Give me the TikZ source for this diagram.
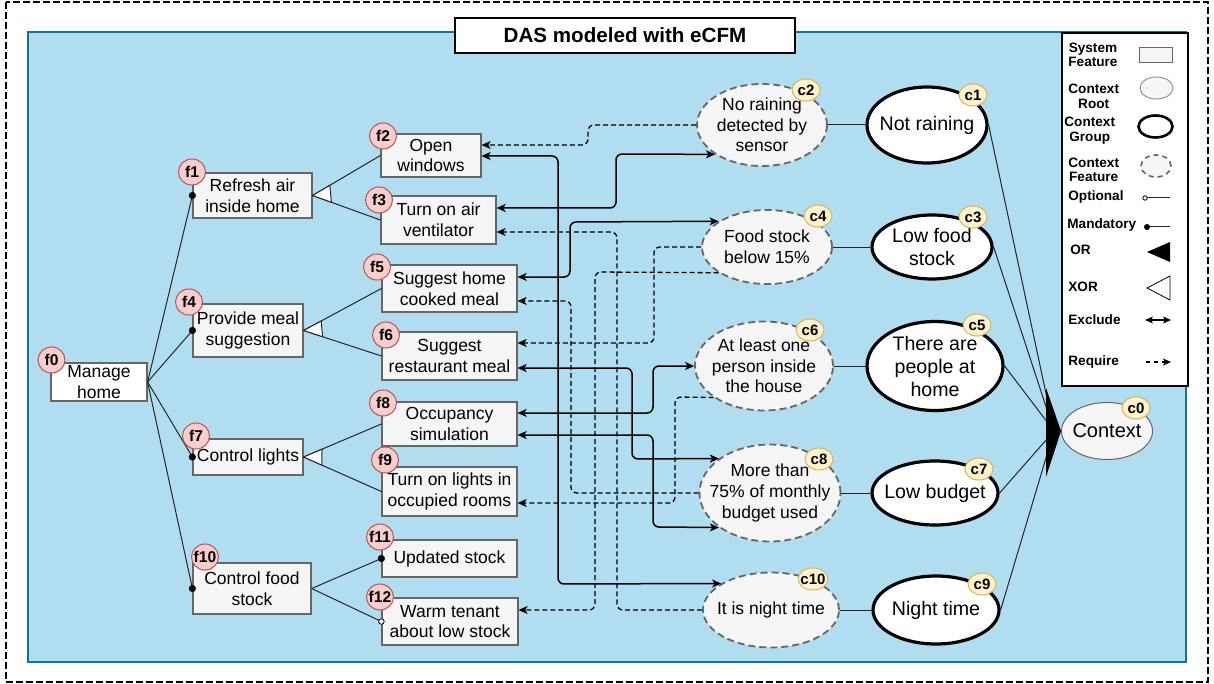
\documentclass[tikz,border=0pt]{standalone}
\usepackage{fontspec}
\setmainfont{Liberation Sans}
\usetikzlibrary{shapes.geometric, arrows.meta, calc}
\definecolor{panelfill}{HTML}{B1DDF0}
\definecolor{panelline}{HTML}{10739E}
\definecolor{featfill}{HTML}{F5F5F5}
\definecolor{featline}{HTML}{666666}
\definecolor{pinkfill}{HTML}{F8CECC}
\definecolor{pinkline}{HTML}{B85450}
\definecolor{yelfill}{HTML}{FFF2CC}
\definecolor{yelline}{HTML}{D6B656}
\begin{document}
\begin{tikzpicture}[x=0.5pt, y=-0.5pt,
  feat/.style={draw=featline, fill=featfill, line width=0.6pt, inner sep=0pt,
    align=center, font=\fontsize{8.75}{10.35}\selectfont},
  cgroup/.style={ellipse, draw=black, fill=white, line width=1.6pt, inner sep=-6pt,
    align=center, font=\fontsize{9.8}{11.5}\selectfont},
  cfeat/.style={ellipse, draw=featline, fill=featfill, line width=0.9pt,
    dash pattern=on 3.5pt off 2pt, inner sep=-6pt, align=center,
    font=\fontsize{8.75}{10.35}\selectfont},
  croot/.style={ellipse, draw=featline, fill=featfill, line width=0.5pt, inner sep=-6pt,
    font=\fontsize{10}{12}\selectfont},
  fbadge/.style={ellipse, draw=pinkline, fill=pinkfill, line width=0.5pt, inner sep=-1pt,
    minimum width=13.5pt, minimum height=13pt, font=\bfseries\fontsize{7.8}{8}\selectfont},
  cbadge/.style={ellipse, draw=yelline, fill=yelfill, line width=0.5pt, inner sep=-1pt,
    minimum width=14pt, minimum height=11pt, font=\bfseries\fontsize{7.5}{8}\selectfont},
  tree/.style={draw=black!85, line width=0.5pt},
  excl/.style={line width=0.75pt, rounded corners=3pt,
    {Stealth[length=4.5pt,width=4pt,inset=1.2pt]}-{Stealth[length=4.5pt,width=4pt,inset=1.2pt]}},
  req/.style={line width=0.65pt, dash pattern=on 2.5pt off 1.5pt, rounded corners=3pt,
    -{Stealth[length=4.5pt,width=4pt,inset=1.2pt]}},
  legtext/.style={anchor=west, inner sep=0pt, align=center,
    font=\bfseries\fontsize{6.8}{7.2}\selectfont},
]
\useasboundingbox (0,0) rectangle (1214,684);

% frame and panel
\draw[line width=1.4pt, dash pattern=on 3.5pt off 1.5pt] (6,2) rectangle (1208,682);
\draw[draw=panelline, fill=panelfill, line width=1pt] (28,32) rectangle (1186,662);
\node[draw=black, line width=0.9pt, fill=white, minimum width=170pt, minimum height=17.5pt,
  inner sep=0pt, font=\bfseries\fontsize{10.3}{12}\selectfont] (title) at (625,35.5)
  {DAS modeled with eCFM};

% system features
\node[feat, fill=white, minimum width=48pt, minimum height=19pt] (f0) at (99,382) {Manage\\home};
\node[feat, minimum width=59.5pt, minimum height=22.5pt] (f1) at (252.5,195.5) {Refresh air\\inside home};
\node[feat, minimum width=55pt, minimum height=26.5pt] (f4) at (248,330.5) {Provide meal\\suggestion};
\node[feat, minimum width=55pt, minimum height=18pt] (f7) at (248,457) {Control lights};
\node[feat, minimum width=59pt, minimum height=25.5pt] (f10) at (252,588.5) {Control food\\stock};
\node[feat, minimum width=50pt, minimum height=21.5pt] (f2) at (431,155.5) {Open\\windows};
\node[feat, minimum width=57.5pt, minimum height=24pt] (f3) at (438.5,220) {Turn on air\\ventilator};
\node[feat, minimum width=67.5pt, minimum height=23.5pt] (f5) at (449.5,288.5) {Suggest home\\cooked meal};
\node[feat, minimum width=67.5pt, minimum height=24pt] (f6) at (449.5,356) {Suggest\\restaurant meal};
\node[feat, minimum width=67.5pt, minimum height=22pt] (f8) at (449.5,424) {Occupancy\\simulation};
\node[feat, minimum width=67.5pt, minimum height=24.5pt] (f9) at (449.5,491.5) {Turn on lights in\\occupied rooms};
\node[feat, minimum width=67.5pt, minimum height=18.5pt] (f11) at (449.5,558.5) {Updated stock};
\node[feat, minimum width=68pt, minimum height=23.5pt] (f12) at (450,621.5) {Warm tenant\\about low stock};

% context
\node[croot, minimum width=45.5pt, minimum height=28.5pt] (c0) at (1107,431) {Context};
\node[cgroup, minimum width=60pt, minimum height=38pt] (c1) at (927,125) {Not raining};
\node[cgroup, minimum width=60pt, minimum height=32pt] (c3) at (932,247) {Low food\\stock};
\node[cgroup, minimum width=68pt, minimum height=44.5pt] (c5) at (935,366) {There are\\people at\\home};
\node[cgroup, minimum width=63pt, minimum height=32pt] (c7) at (935,493) {Low budget};
\node[cgroup, minimum width=63pt, minimum height=34pt] (c9) at (936,610) {Night time};
\node[cfeat, minimum width=65pt, minimum height=41pt] (c2) at (762,125) {No raining\\detected by\\sensor};
\node[cfeat, minimum width=65pt, minimum height=37pt] (c4) at (767,247) {Food stock\\below 15\%};
\node[cfeat, minimum width=69pt, minimum height=44.5pt] (c6) at (764,366) {At least one\\person inside\\the house};
\node[cfeat, minimum width=70.5pt, minimum height=48.5pt] (c8) at (770,493) {More than\\75\% of monthly\\budget used};
\node[cfeat, minimum width=68pt, minimum height=37.5pt] (c10) at (771,610) {It is night time};

% feature tree
\foreach \ch in {f1,f4,f7,f10} {
  \draw[tree] (f0.east) -- (\ch.west);
  \fill (\ch.west) circle (1.8pt);
}
\foreach \pa/\ca/\cb in {f1/f2/f3, f4/f5/f6, f7/f8/f9} {
  \draw[tree] (\pa.east) -- (\ca.west);
  \draw[tree] (\pa.east) -- (\cb.west);
  \draw[tree, fill=white] (\pa.east) -- ($(\pa.east)!10pt!(\ca.west)$)
    -- ($(\pa.east)!10pt!(\cb.west)$) -- cycle;
}
\draw[tree] (f10.east) -- (f11.west);
\draw[tree] (f10.east) -- (f12.west);
\fill (f11.west) circle (1.8pt);
\draw[line width=0.4pt, fill=white] (f12.west) circle (1.4pt);

% context tree
\foreach \cf/\cg in {c2/c1, c4/c3, c6/c5, c8/c7, c10/c9}
  \draw[tree] (\cf.east) -- (\cg.west);
\coordinate (orhub) at (1054,431);
\foreach \cg in {c1,c3,c5,c7,c9}
  \draw[tree] (\cg.east) -- (orhub);
\fill (1046,388) -- (c0.west) -- (1046,477) -- cycle;

% exclude constraints
\draw[excl] (f2.east |- 0,156) -- (558,156) -- (558,584) -- (c10.152);
\draw[excl] (f3.east |- 0,208) -- (616,208) -- (616,154) -- (c2.212);
\draw[excl] (f5.east |- 0,277) -- (570,277) -- (570,222) -- (c4.152);
\draw[excl] (f6.east |- 0,368) -- (632,368) -- (632,459) -- (c8.146);
\draw[excl] (f8.east |- 0,413) -- (653,413) -- (653,366) -- (c6.west);
\draw[excl] (f8.east |- 0,435) -- (653,435) -- (653,527) -- (c8.214);

% require constraints
\draw[req] (c2.west) -- (588,125) -- (588,145) -- (f2.east |- 0,145);
\draw[req] (c10.west) -- (617,610) -- (617,232) -- (f3.east |- 0,232);
\draw[req] (c4.208) -- (595,272) -- (595,610) -- (f12.east |- 0,610);
\draw[req] (c4.west) -- (654,247) -- (654,343) -- (f6.east |- 0,343);
\draw[req] (c8.west) -- (571,493) -- (571,301) -- (f5.east |- 0,301);
\draw[req] (c6.212) -- (675,397) -- (675,503) -- (f9.east |- 0,503);

% badges
\foreach \n/\x/\y in {f0/51.5/360, f1/192/172, f2/383/136, f3/379/200, f4/189/302,
  f5/377/267, f6/386/335, f7/196/436, f8/383/403, f9/385/460, f10/205/557,
  f11/380/537, f12/380/597}
  \node[fbadge] (\n b) at (\x,\y) {\n};
\foreach \n/\x/\y in {c0/1136/408, c1/973/95, c2/806/90, c3/973/217, c4/818/216,
  c5/977/325, c6/810/330, c7/979/469, c8/819/459, c9/982/584, c10/813/579}
  \node[cbadge] (\n b) at (\x,\y) {\n};

% legend
\node[draw=black, line width=1pt, fill=white, minimum width=63pt, minimum height=176.5pt,
  inner sep=0pt] (legend) at (1125,209.5) {};
\node[legtext] (lg1) at (1068,55) {System\\Feature};
\node[legtext] (lg2) at (1068,96.5) {Context\\Root};
\node[legtext] (lg3) at (1064,130.5) {Context\\Group};
\node[legtext] (lg4) at (1068,170) {Context\\Feature};
\node[legtext] (lg5) at (1068,197) {Optional};
\node[legtext] (lg6) at (1067,225) {Mandatory};
\node[legtext] (lg7) at (1070,250) {OR};
\node[legtext] (lg8) at (1068,287) {XOR};
\node[legtext] (lg9) at (1068,320) {Exclude};
\node[legtext] (lg10) at (1068,362) {Require};
\node[draw=featline, fill=featfill, line width=0.5pt, minimum width=16.5pt, minimum height=7.3pt,
  inner sep=0pt] (ls1) at (1155.5,55) {};
\node[ellipse, draw=featline!70, fill=featfill, line width=0.5pt, minimum width=16.5pt,
  minimum height=11pt, inner sep=0pt] (ls2) at (1156.5,88) {};
\node[ellipse, draw=black, fill=white, line width=1.3pt, minimum width=17pt,
  minimum height=11pt, inner sep=0pt] (ls3) at (1155.5,126.5) {};
\node[ellipse, draw=featline, fill=featfill, line width=0.8pt, dash pattern=on 2.5pt off 2pt,
  minimum width=15pt, minimum height=11pt, inner sep=0pt] (ls4) at (1156,166) {};
\draw[tree] (1147,198) -- (1170,198);
\draw[line width=0.4pt, fill=white] (1145,198) circle (1.1pt);
\draw[tree] (1147,227) -- (1170,227);
\fill (1147,227) circle (1.5pt);
\fill (1147,252) -- (1170,242) -- (1170,262) -- cycle;
\draw[line width=0.4pt, fill=white] (1147,288) -- (1170,276) -- (1170,300) -- cycle;
\draw[line width=0.6pt, {Stealth[length=4pt,width=3.5pt,inset=1pt]}-{Stealth[length=4pt,width=3.5pt,inset=1pt]}]
  (1145,320) -- (1171,320);
\draw[line width=0.6pt, dash pattern=on 2pt off 2pt, -{Stealth[length=4pt,width=3.5pt,inset=1pt]}]
  (1146,362) -- (1171,362);
\end{tikzpicture}
\end{document}
